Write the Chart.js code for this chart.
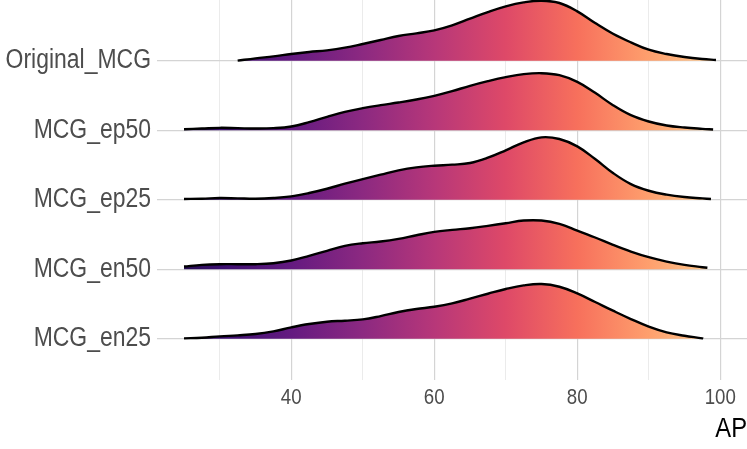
<!DOCTYPE html>
<html>
<head>
<meta charset="utf-8">
<script src="https://cdn.jsdelivr.net/npm/chart.js@4"></script>
<style>
  html, body { margin: 0; padding: 0; background: #ffffff; }
  #wrap { width: 747px; height: 449px; position: relative; }
</style>
</head>
<body>
<div id="wrap"><canvas id="ridgeChart"></canvas></div>
<script>
// ===== DATA =====
// rows from the bottom of the plot up (y = 1 .. 5)
const categories = ['MCG_en25', 'MCG_en50', 'MCG_ep25', 'MCG_ep50', 'Original_MCG'];

const apGrid = [25, 27.5, 30, 32.5, 35, 37.5, 40, 42.5, 45, 47.5, 50, 52.5, 55, 57.5, 60,
                62.5, 65, 67.5, 70, 72.5, 75, 77.5, 80, 82.5, 85, 87.5, 90, 92.5, 95, 97.5];

// ridge heights (in row units) at each apGrid value, null = no data there
const en25 = [0.005, 0.014, 0.034, 0.048, 0.067, 0.106, 0.163, 0.211, 0.245, 0.259, 0.278, 0.326, 0.384, 0.427, 0.460,
              0.508, 0.576, 0.647, 0.715, 0.767, 0.787, 0.748, 0.652, 0.528, 0.403, 0.283, 0.173, 0.091, 0.043, 0.005];
const en50 = [0.038, 0.062, 0.072, 0.072, 0.072, 0.086, 0.125, 0.192, 0.264, 0.336, 0.374, 0.398, 0.436, 0.489, 0.537,
              0.566, 0.590, 0.624, 0.662, 0.700, 0.700, 0.652, 0.556, 0.456, 0.350, 0.254, 0.173, 0.110, 0.062, 0.029];
const ep25 = [0.010, 0.014, 0.024, 0.019, 0.014, 0.024, 0.048, 0.096, 0.158, 0.230, 0.297, 0.360, 0.422, 0.465, 0.489,
              0.504, 0.528, 0.604, 0.710, 0.825, 0.897, 0.873, 0.767, 0.585, 0.384, 0.225, 0.129, 0.072, 0.038, 0.019];
const ep50 = [0.014, 0.024, 0.034, 0.029, 0.024, 0.029, 0.053, 0.115, 0.192, 0.264, 0.317, 0.360, 0.398, 0.441, 0.494,
              0.561, 0.638, 0.705, 0.763, 0.806, 0.820, 0.791, 0.695, 0.537, 0.360, 0.216, 0.125, 0.067, 0.038, 0.019];
const original = [null, null, null, 0.000, 0.034, 0.062, 0.096, 0.125, 0.149, 0.187, 0.240, 0.297, 0.355, 0.393, 0.436,
              0.508, 0.604, 0.700, 0.782, 0.839, 0.863, 0.830, 0.710, 0.542, 0.388, 0.264, 0.158, 0.096, 0.053, 0.024];

// where each curve stops on the right
const tailAP = [97.6, 98.2, 98.7, 99.0, 99.4];
const tailHeight = [0.0, 0.02, 0.01, 0.01, 0.01];

const xTicks = [30, 40, 50, 60, 70, 80, 90, 100];
const xLabelTicks = [40, 60, 80, 100];

// magma palette stops
const magma = ['#000004', '#140E36', '#3B0F70', '#641A80', '#8C2981', '#B73779',
               '#DE4968', '#F7705C', '#FE9F6D', '#FECF92', '#FCFDBF'];

// ===== CHART =====
const FONT = "'Liberation Sans', Arial, sans-serif";
const TEXT_SQUEEZE = 0.85;   // axis text in the original is a narrow face
const series = [en25, en50, ep25, ep50, original];

let fillGradient = null;
let gradientKey = '';

function getGradient(chart) {
    const area = chart.chartArea;
    if (!area) return null;
    const xs = chart.scales.x;
    const x0 = xs.getPixelForValue(10);
    const x1 = xs.getPixelForValue(110);
    const key = x0 + '_' + x1;
    if (fillGradient && key === gradientKey) return fillGradient;
    const g = chart.ctx.createLinearGradient(x0, 0, x1, 0);
    magma.forEach((c, i) => g.addColorStop(i / (magma.length - 1), c));
    fillGradient = g;
    gradientKey = key;
    return g;
}

function buildPoints(idx) {
    const base = idx + 1;
    const h = series[idx];
    const pts = [];
    apGrid.forEach((x, i) => {
        if (h[i] !== null) pts.push({ x: x, y: base + h[i] });
    });
    pts.push({ x: tailAP[idx], y: base + tailHeight[idx] });
    return pts;
}

// narrow the axis text horizontally around its anchor point
const narrowText = {
    id: 'narrowText',
    beforeInit(chart) {
        const ctx = chart.ctx;
        const fill = ctx.fillText.bind(ctx);
        ctx.fillText = function (text, x, y, maxWidth) {
            ctx.save();
            ctx.translate(x, y);
            ctx.scale(TEXT_SQUEEZE, 1);
            fill(text, 0, 0);
            ctx.restore();
        };
    }
};

const datasets = categories.map((name, idx) => ({
    label: name,
    data: buildPoints(idx),
    borderColor: '#000000',
    borderWidth: 2.4,
    backgroundColor: (ctx) => getGradient(ctx.chart),
    fill: { value: idx + 1 },
    pointRadius: 0,
    tension: 0.4
}));

new Chart(document.getElementById('ridgeChart'), {
    type: 'line',
    data: { datasets: datasets },
    plugins: [narrowText],
    options: {
        responsive: true,
        maintainAspectRatio: false,
        animation: false,
        layout: { padding: 0 },
        plugins: {
            legend: { display: false },
            tooltip: { enabled: false }
        },
        scales: {
            x: {
                type: 'linear',
                min: 21.22,
                max: 103.74,
                afterBuildTicks: (scale) => {
                    scale.ticks = xTicks.map(v => ({ value: v }));
                },
                afterFit: (scale) => {
                    scale.height = 69;
                    scale.paddingLeft = 0;
                    scale.paddingRight = 0;
                },
                border: { display: false },
                grid: {
                    drawTicks: false,
                    color: (c) => (xLabelTicks.includes(c.tick && c.tick.value) ? '#d4d4d4' : '#e6e6e6'),
                    lineWidth: (c) => (xLabelTicks.includes(c.tick && c.tick.value) ? 1.2 : 0.8)
                },
                ticks: {
                    autoSkip: false,
                    maxRotation: 0,
                    padding: 5,
                    color: '#4d4d4d',
                    font: { family: FONT, size: 22 },
                    callback: (v) => (xLabelTicks.includes(v) ? String(v) : '')
                },
                title: {
                    display: true,
                    text: 'AP',
                    align: 'end',
                    color: '#000000',
                    font: { family: FONT, size: 28 },
                    padding: { top: 0, bottom: 3 }
                }
            },
            y: {
                type: 'linear',
                min: 0.406,
                max: 5.873,
                afterBuildTicks: (scale) => {
                    scale.ticks = categories.map((c, i) => ({ value: i + 1 }));
                },
                afterFit: (scale) => {
                    scale.width = 157;
                    scale.paddingTop = 0;
                    scale.paddingBottom = 0;
                },
                border: { display: false },
                grid: {
                    drawTicks: false,
                    color: '#d4d4d4',
                    lineWidth: 1.2
                },
                ticks: {
                    padding: 6,
                    color: '#4d4d4d',
                    font: { family: FONT, size: 27 },
                    callback: (v) => categories[v - 1]
                }
            }
        }
    }
});
</script>
</body>
</html>
